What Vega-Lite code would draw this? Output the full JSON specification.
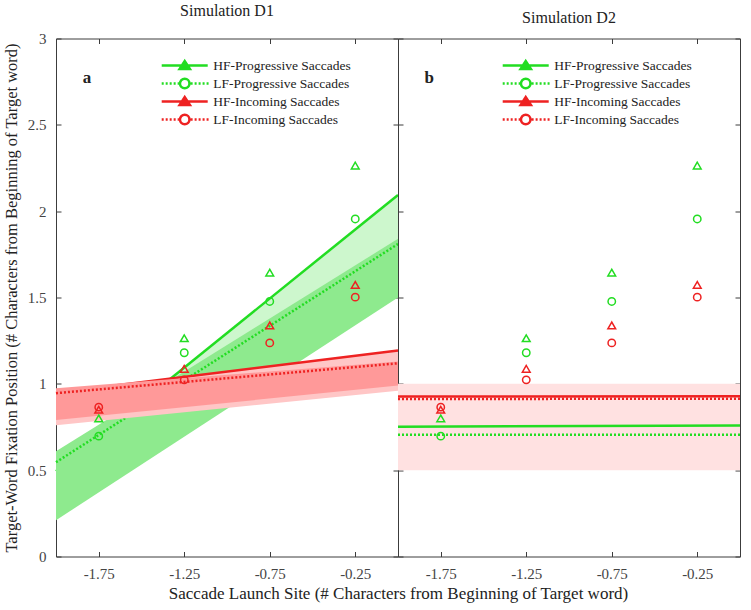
{
  "$schema": "https://vega.github.io/schema/vega-lite/v6.json",
  "background": "white",
  "padding": {"left": 3, "top": 2.5, "right": 8, "bottom": 5},
  "spacing": 0,
  "bounds": "flush",
  "datasets": {
    "pts": [
      {"series": "HF-Progressive Saccades", "x": -1.75, "y": 0.80},
      {"series": "HF-Progressive Saccades", "x": -1.25, "y": 1.264},
      {"series": "HF-Progressive Saccades", "x": -0.75, "y": 1.644},
      {"series": "HF-Progressive Saccades", "x": -0.25, "y": 2.264},
      {"series": "LF-Progressive Saccades", "x": -1.75, "y": 0.697},
      {"series": "LF-Progressive Saccades", "x": -1.25, "y": 1.18},
      {"series": "LF-Progressive Saccades", "x": -0.75, "y": 1.477},
      {"series": "LF-Progressive Saccades", "x": -0.25, "y": 1.955},
      {"series": "HF-Incoming Saccades", "x": -1.75, "y": 0.85},
      {"series": "HF-Incoming Saccades", "x": -1.25, "y": 1.087},
      {"series": "HF-Incoming Saccades", "x": -0.75, "y": 1.338},
      {"series": "HF-Incoming Saccades", "x": -0.25, "y": 1.573},
      {"series": "LF-Incoming Saccades", "x": -1.75, "y": 0.865},
      {"series": "LF-Incoming Saccades", "x": -1.25, "y": 1.023},
      {"series": "LF-Incoming Saccades", "x": -0.75, "y": 1.237},
      {"series": "LF-Incoming Saccades", "x": -0.25, "y": 1.502}
    ],
    "linesA": [
      {"series": "HFP", "x": -2, "y": 0.494},
      {"series": "HFP", "x": 0, "y": 2.094},
      {"series": "LFP", "x": -2, "y": 0.546},
      {"series": "LFP", "x": 0, "y": 1.81},
      {"series": "HFI", "x": -2, "y": 0.948},
      {"series": "HFI", "x": 0, "y": 1.193},
      {"series": "LFI", "x": -2, "y": 0.946},
      {"series": "LFI", "x": 0, "y": 1.119}
    ],
    "bandsA": [
      {"band": "HFP", "x": -2, "y": 0.30, "y2": 0.494},
      {"band": "HFP", "x": 0, "y": 1.84, "y2": 2.094},
      {"band": "LFP", "x": -2, "y": 0.21, "y2": 0.61},
      {"band": "LFP", "x": 0, "y": 1.50, "y2": 1.84},
      {"band": "HFI", "x": -2, "y": 0.76, "y2": 0.948},
      {"band": "HFI", "x": 0, "y": 0.96, "y2": 1.193},
      {"band": "LFI", "x": -2, "y": 0.79, "y2": 0.975},
      {"band": "LFI", "x": 0, "y": 0.99, "y2": 1.13}
    ],
    "linesB": [
      {"series": "HFP", "x": -2, "y": 0.752},
      {"series": "HFP", "x": 0, "y": 0.758},
      {"series": "LFP", "x": -2, "y": 0.705},
      {"series": "LFP", "x": 0, "y": 0.705},
      {"series": "HFI", "x": -2, "y": 0.926},
      {"series": "HFI", "x": 0, "y": 0.928},
      {"series": "LFI", "x": -2, "y": 0.912},
      {"series": "LFI", "x": 0, "y": 0.914}
    ],
    "bandsB": [
      {"band": "R", "x": -2, "y": 0.5, "y2": 1.0},
      {"band": "R", "x": 0, "y": 0.5, "y2": 1.0}
    ]
  },
  "hconcat": [
    {
      "width": 342,
      "height": 518,
      "title": {"text": "Simulation D1", "font": "Liberation Serif", "fontSize": 16, "fontWeight": "normal", "color": "#222222", "offset": 12.5},
      "resolve": {"axis": {"x": "independent", "y": "independent"}},
      "layer": [
        {
          "data": {"name": "bandsA"},
          "transform": [{"filter": "datum.band == 'HFP'"}],
          "mark": {"type": "area", "color": "#cdf7cd", "opacity": 1},
          "encoding": {
            "x": {"field": "x", "type": "quantitative", "scale": {"domain": [-2, 0], "nice": false},
              "axis": {"orient": "bottom", "values": [-1.75, -1.25, -0.75, -0.25], "labelExpr": "replace(format(datum.value, '.2f'), '\u2212', '-')",
                "labelFont": "Liberation Serif", "titleFont": "Liberation Serif", "titleFontSize": 17,
                "title": "Saccade Launch Site (# Characters from Beginning of Target word)", "titleX": 342, "titleY": 37, "titleAlign": "center", "titleBaseline": "middle"}},
            "y": {"field": "y", "type": "quantitative", "scale": {"domain": [0, 3], "nice": false},
              "axis": {"orient": "left", "values": [0, 0.5, 1, 1.5, 2, 2.5, 3], "labelExpr": "datum.value + ''",
                "labelFont": "Liberation Serif", "titleFont": "Liberation Serif", "titleFontSize": 16.5,
                "title": "Target-Word Fixation Position (# Characters from Beginning of Target word)", "titlePadding": 8}},
            "y2": {"field": "y2"}
          }
        },
        {
          "data": {"name": "pts"},
          "mark": {"type": "point", "filled": true, "opacity": 0, "size": 90, "strokeWidth": 2.5},
          "encoding": {
            "x": {"field": "x", "type": "quantitative", "axis": null},
            "y": {"field": "y", "type": "quantitative", "axis": null},
            "shape": {"field": "series", "type": "nominal",
              "scale": {"domain": ["HF-Progressive Saccades", "LF-Progressive Saccades", "HF-Incoming Saccades", "LF-Incoming Saccades"],
                "range": ["M-1,0L8.7,0M2.75,0.75L3.85,-0.95L4.95,0.75Z", "M-1,0h0.42M-0.16,0h0.42M0.68,0h0.42M1.52,0h0.42M2.36,0h0.42M2.85,0A1,1 0 1,0 4.85,0A1,1 0 1,0 2.85,0ZM5.1,0h0.42M5.94,0h0.42M6.78,0h0.42M7.62,0h0.42M8.46,0h0.42", "M-1,0L8.7,0M2.75,0.75L3.85,-0.95L4.95,0.75Z", "M-1,0h0.42M-0.16,0h0.42M0.68,0h0.42M1.52,0h0.42M2.36,0h0.42M2.85,0A1,1 0 1,0 4.85,0A1,1 0 1,0 2.85,0ZM5.1,0h0.42M5.94,0h0.42M6.78,0h0.42M7.62,0h0.42M8.46,0h0.42"]},
              "legend": {"orient": "none", "legendX": 103.7, "legendY": 19.5, "title": null, "padding": 0, "symbolSize": 90, "symbolStrokeWidth": 2.5, "symbolOpacity": 1, "labelOffset": 40, "clipHeight": 15, "rowPadding": 3, "labelFont": "Liberation Serif", "labelFontSize": 13.5, "labelColor": "#222222"}},
            "stroke": {"field": "series", "type": "nominal",
              "scale": {"domain": ["HF-Progressive Saccades", "LF-Progressive Saccades", "HF-Incoming Saccades", "LF-Incoming Saccades"], "range": ["#22dd22", "#22dd22", "#ee2222", "#ee2222"]},
              "legend": {"orient": "none", "legendX": 103.7, "legendY": 19.5, "title": null, "padding": 0, "symbolSize": 90, "symbolStrokeWidth": 2.5, "symbolOpacity": 1, "labelOffset": 40, "clipHeight": 15, "rowPadding": 3, "labelFont": "Liberation Serif", "labelFontSize": 13.5, "labelColor": "#222222"}},
            "fill": {"field": "series", "type": "nominal",
              "scale": {"domain": ["HF-Progressive Saccades", "LF-Progressive Saccades", "HF-Incoming Saccades", "LF-Incoming Saccades"], "range": ["#22dd22", "#ffffff", "#ee2222", "#ffffff"]},
              "legend": {"orient": "none", "legendX": 103.7, "legendY": 19.5, "title": null, "padding": 0, "symbolSize": 90, "symbolStrokeWidth": 2.5, "symbolOpacity": 1, "labelOffset": 40, "clipHeight": 15, "rowPadding": 3, "labelFont": "Liberation Serif", "labelFontSize": 13.5, "labelColor": "#222222"}}
          }
        },
        {
          "data": {"name": "linesA"},
          "transform": [{"filter": "datum.series == 'HFP'"}],
          "mark": {"type": "line", "color": "#22dd22", "strokeWidth": 2.5},
          "encoding": {
            "x": {"field": "x", "type": "quantitative", "axis": null},
            "y": {"field": "y", "type": "quantitative", "axis": null}
          }
        },
        {
          "data": {"name": "bandsA"},
          "transform": [{"filter": "datum.band == 'LFP'"}],
          "mark": {"type": "area", "color": "#8eea8e", "opacity": 1},
          "encoding": {
            "x": {"field": "x", "type": "quantitative", "axis": null},
            "y": {"field": "y", "type": "quantitative", "axis": null},
            "y2": {"field": "y2"}
          }
        },
        {
          "data": {"name": "linesA"},
          "transform": [{"filter": "datum.series == 'LFP'"}],
          "mark": {"type": "line", "color": "#22dd22", "strokeWidth": 2.5, "strokeDash": [2, 2]},
          "encoding": {
            "x": {"field": "x", "type": "quantitative", "axis": null},
            "y": {"field": "y", "type": "quantitative", "axis": null}
          }
        },
        {
          "data": {"name": "bandsA"},
          "transform": [{"filter": "datum.band == 'HFI'"}],
          "mark": {"type": "area", "color": "#ffc6c6", "opacity": 1},
          "encoding": {
            "x": {"field": "x", "type": "quantitative", "axis": null},
            "y": {"field": "y", "type": "quantitative", "axis": null},
            "y2": {"field": "y2"}
          }
        },
        {
          "data": {"name": "linesA"},
          "transform": [{"filter": "datum.series == 'HFI'"}],
          "mark": {"type": "line", "color": "#ee2222", "strokeWidth": 2.5},
          "encoding": {
            "x": {"field": "x", "type": "quantitative", "axis": null},
            "y": {"field": "y", "type": "quantitative", "axis": null}
          }
        },
        {
          "data": {"name": "bandsA"},
          "transform": [{"filter": "datum.band == 'LFI'"}],
          "mark": {"type": "area", "color": "#ff9999", "opacity": 1},
          "encoding": {
            "x": {"field": "x", "type": "quantitative", "axis": null},
            "y": {"field": "y", "type": "quantitative", "axis": null},
            "y2": {"field": "y2"}
          }
        },
        {
          "data": {"name": "linesA"},
          "transform": [{"filter": "datum.series == 'LFI'"}],
          "mark": {"type": "line", "color": "#ee2222", "strokeWidth": 2.5, "strokeDash": [2, 2]},
          "encoding": {
            "x": {"field": "x", "type": "quantitative", "axis": null},
            "y": {"field": "y", "type": "quantitative", "axis": null}
          }
        },
        {
          "data": {"name": "pts"},
          "transform": [{"filter": "indexof(datum.series, 'HF') == 0"}],
          "mark": {"type": "point", "shape": "triangle-up", "filled": false, "opacity": 1, "size": 60, "strokeWidth": 1.5},
          "encoding": {
            "x": {"field": "x", "type": "quantitative", "axis": null},
            "y": {"field": "y", "type": "quantitative", "axis": null},
            "stroke": {"field": "series", "type": "nominal",
              "scale": {"domain": ["HF-Progressive Saccades", "LF-Progressive Saccades", "HF-Incoming Saccades", "LF-Incoming Saccades"], "range": ["#22dd22", "#22dd22", "#ee2222", "#ee2222"]},
              "legend": {"orient": "none", "legendX": 103.7, "legendY": 19.5, "title": null, "padding": 0, "symbolSize": 90, "symbolStrokeWidth": 2.5, "symbolOpacity": 1, "labelOffset": 40, "clipHeight": 15, "rowPadding": 3, "labelFont": "Liberation Serif", "labelFontSize": 13.5, "labelColor": "#222222"}}
          }
        },
        {
          "data": {"name": "pts"},
          "transform": [{"filter": "indexof(datum.series, 'LF') == 0"}],
          "mark": {"type": "point", "shape": "circle", "filled": false, "opacity": 1, "size": 55, "strokeWidth": 1.5},
          "encoding": {
            "x": {"field": "x", "type": "quantitative", "axis": null},
            "y": {"field": "y", "type": "quantitative", "axis": null},
            "stroke": {"field": "series", "type": "nominal",
              "scale": {"domain": ["HF-Progressive Saccades", "LF-Progressive Saccades", "HF-Incoming Saccades", "LF-Incoming Saccades"], "range": ["#22dd22", "#22dd22", "#ee2222", "#ee2222"]},
              "legend": {"orient": "none", "legendX": 103.7, "legendY": 19.5, "title": null, "padding": 0, "symbolSize": 90, "symbolStrokeWidth": 2.5, "symbolOpacity": 1, "labelOffset": 40, "clipHeight": 15, "rowPadding": 3, "labelFont": "Liberation Serif", "labelFontSize": 13.5, "labelColor": "#222222"}}
          }
        },
        {
          "data": {"values": [{"x": -1.818, "y": 2.77, "label": "a"}]},
          "mark": {"type": "text", "font": "Liberation Serif", "fontSize": 17, "fontWeight": "bold", "color": "#222222", "align": "center", "baseline": "middle"},
          "encoding": {
            "x": {"field": "x", "type": "quantitative", "axis": {"orient": "top", "values": [-1.75, -1.25, -0.75, -0.25], "labels": false, "title": null}},
            "y": {"field": "y", "type": "quantitative", "axis": {"orient": "right", "values": [0, 0.5, 1, 1.5, 2, 2.5, 3], "labels": false, "title": null}},
            "text": {"field": "label"}
          }
        }
      ]
    },
    {
      "width": 342,
      "height": 518,
      "title": {"text": "Simulation D2", "font": "Liberation Serif", "fontSize": 16, "fontWeight": "normal", "color": "#222222", "offset": 12.5},
      "resolve": {"axis": {"x": "independent", "y": "independent"}},
      "layer": [
        {
          "data": {"name": "bandsB"},
          "mark": {"type": "area", "color": "#ffe1e1", "opacity": 1},
          "encoding": {
            "x": {"field": "x", "type": "quantitative", "scale": {"domain": [-2, 0], "nice": false},
              "axis": {"orient": "bottom", "values": [-1.75, -1.25, -0.75, -0.25], "labelExpr": "replace(format(datum.value, '.2f'), '\u2212', '-')", "labelFont": "Liberation Serif", "title": null}},
            "y": {"field": "y", "type": "quantitative", "scale": {"domain": [0, 3], "nice": false},
              "axis": {"orient": "left", "values": [0, 0.5, 1, 1.5, 2, 2.5, 3], "labels": false, "title": null}},
            "y2": {"field": "y2"}
          }
        },
        {
          "data": {"name": "pts"},
          "mark": {"type": "point", "filled": true, "opacity": 0, "size": 90, "strokeWidth": 2.5},
          "encoding": {
            "x": {"field": "x", "type": "quantitative", "axis": null},
            "y": {"field": "y", "type": "quantitative", "axis": null},
            "shape": {"field": "series", "type": "nominal",
              "scale": {"domain": ["HF-Progressive Saccades", "LF-Progressive Saccades", "HF-Incoming Saccades", "LF-Incoming Saccades"],
                "range": ["M-1,0L8.7,0M2.75,0.75L3.85,-0.95L4.95,0.75Z", "M-1,0h0.42M-0.16,0h0.42M0.68,0h0.42M1.52,0h0.42M2.36,0h0.42M2.85,0A1,1 0 1,0 4.85,0A1,1 0 1,0 2.85,0ZM5.1,0h0.42M5.94,0h0.42M6.78,0h0.42M7.62,0h0.42M8.46,0h0.42", "M-1,0L8.7,0M2.75,0.75L3.85,-0.95L4.95,0.75Z", "M-1,0h0.42M-0.16,0h0.42M0.68,0h0.42M1.52,0h0.42M2.36,0h0.42M2.85,0A1,1 0 1,0 4.85,0A1,1 0 1,0 2.85,0ZM5.1,0h0.42M5.94,0h0.42M6.78,0h0.42M7.62,0h0.42M8.46,0h0.42"]},
              "legend": {"orient": "none", "legendX": 102.7, "legendY": 19.5, "title": null, "padding": 0, "symbolSize": 90, "symbolStrokeWidth": 2.5, "symbolOpacity": 1, "labelOffset": 40, "clipHeight": 15, "rowPadding": 3, "labelFont": "Liberation Serif", "labelFontSize": 13.5, "labelColor": "#222222"}},
            "stroke": {"field": "series", "type": "nominal",
              "scale": {"domain": ["HF-Progressive Saccades", "LF-Progressive Saccades", "HF-Incoming Saccades", "LF-Incoming Saccades"], "range": ["#22dd22", "#22dd22", "#ee2222", "#ee2222"]},
              "legend": {"orient": "none", "legendX": 102.7, "legendY": 19.5, "title": null, "padding": 0, "symbolSize": 90, "symbolStrokeWidth": 2.5, "symbolOpacity": 1, "labelOffset": 40, "clipHeight": 15, "rowPadding": 3, "labelFont": "Liberation Serif", "labelFontSize": 13.5, "labelColor": "#222222"}},
            "fill": {"field": "series", "type": "nominal",
              "scale": {"domain": ["HF-Progressive Saccades", "LF-Progressive Saccades", "HF-Incoming Saccades", "LF-Incoming Saccades"], "range": ["#22dd22", "#ffffff", "#ee2222", "#ffffff"]},
              "legend": {"orient": "none", "legendX": 102.7, "legendY": 19.5, "title": null, "padding": 0, "symbolSize": 90, "symbolStrokeWidth": 2.5, "symbolOpacity": 1, "labelOffset": 40, "clipHeight": 15, "rowPadding": 3, "labelFont": "Liberation Serif", "labelFontSize": 13.5, "labelColor": "#222222"}}
          }
        },
        {
          "data": {"name": "linesB"},
          "transform": [{"filter": "datum.series == 'HFP'"}],
          "mark": {"type": "line", "color": "#22dd22", "strokeWidth": 2.5},
          "encoding": {
            "x": {"field": "x", "type": "quantitative", "axis": null},
            "y": {"field": "y", "type": "quantitative", "axis": null}
          }
        },
        {
          "data": {"name": "linesB"},
          "transform": [{"filter": "datum.series == 'LFP'"}],
          "mark": {"type": "line", "color": "#22dd22", "strokeWidth": 2.5, "strokeDash": [2, 2]},
          "encoding": {
            "x": {"field": "x", "type": "quantitative", "axis": null},
            "y": {"field": "y", "type": "quantitative", "axis": null}
          }
        },
        {
          "data": {"name": "linesB"},
          "transform": [{"filter": "datum.series == 'HFI'"}],
          "mark": {"type": "line", "color": "#ee2222", "strokeWidth": 2.5},
          "encoding": {
            "x": {"field": "x", "type": "quantitative", "axis": null},
            "y": {"field": "y", "type": "quantitative", "axis": null}
          }
        },
        {
          "data": {"name": "linesB"},
          "transform": [{"filter": "datum.series == 'LFI'"}],
          "mark": {"type": "line", "color": "#ee2222", "strokeWidth": 2.5, "strokeDash": [2, 2]},
          "encoding": {
            "x": {"field": "x", "type": "quantitative", "axis": null},
            "y": {"field": "y", "type": "quantitative", "axis": null}
          }
        },
        {
          "data": {"name": "pts"},
          "transform": [{"filter": "indexof(datum.series, 'HF') == 0"}],
          "mark": {"type": "point", "shape": "triangle-up", "filled": false, "opacity": 1, "size": 60, "strokeWidth": 1.5},
          "encoding": {
            "x": {"field": "x", "type": "quantitative", "axis": null},
            "y": {"field": "y", "type": "quantitative", "axis": null},
            "stroke": {"field": "series", "type": "nominal",
              "scale": {"domain": ["HF-Progressive Saccades", "LF-Progressive Saccades", "HF-Incoming Saccades", "LF-Incoming Saccades"], "range": ["#22dd22", "#22dd22", "#ee2222", "#ee2222"]},
              "legend": {"orient": "none", "legendX": 102.7, "legendY": 19.5, "title": null, "padding": 0, "symbolSize": 90, "symbolStrokeWidth": 2.5, "symbolOpacity": 1, "labelOffset": 40, "clipHeight": 15, "rowPadding": 3, "labelFont": "Liberation Serif", "labelFontSize": 13.5, "labelColor": "#222222"}}
          }
        },
        {
          "data": {"name": "pts"},
          "transform": [{"filter": "indexof(datum.series, 'LF') == 0"}],
          "mark": {"type": "point", "shape": "circle", "filled": false, "opacity": 1, "size": 55, "strokeWidth": 1.5},
          "encoding": {
            "x": {"field": "x", "type": "quantitative", "axis": null},
            "y": {"field": "y", "type": "quantitative", "axis": null},
            "stroke": {"field": "series", "type": "nominal",
              "scale": {"domain": ["HF-Progressive Saccades", "LF-Progressive Saccades", "HF-Incoming Saccades", "LF-Incoming Saccades"], "range": ["#22dd22", "#22dd22", "#ee2222", "#ee2222"]},
              "legend": {"orient": "none", "legendX": 102.7, "legendY": 19.5, "title": null, "padding": 0, "symbolSize": 90, "symbolStrokeWidth": 2.5, "symbolOpacity": 1, "labelOffset": 40, "clipHeight": 15, "rowPadding": 3, "labelFont": "Liberation Serif", "labelFontSize": 13.5, "labelColor": "#222222"}}
          }
        },
        {
          "data": {"values": [{"x": -1.818, "y": 2.77, "label": "b"}]},
          "mark": {"type": "text", "font": "Liberation Serif", "fontSize": 17, "fontWeight": "bold", "color": "#222222", "align": "center", "baseline": "middle"},
          "encoding": {
            "x": {"field": "x", "type": "quantitative", "axis": {"orient": "top", "values": [-1.75, -1.25, -0.75, -0.25], "labels": false, "title": null}},
            "y": {"field": "y", "type": "quantitative", "axis": {"orient": "right", "values": [0, 0.5, 1, 1.5, 2, 2.5, 3], "labels": false, "title": null}},
            "text": {"field": "label"}
          }
        }
      ]
    }
  ],
  "resolve": {"scale": {"color": "independent", "shape": "independent", "stroke": "independent", "fill": "independent"}, "legend": {"color": "independent", "shape": "independent", "stroke": "independent", "fill": "independent"}},
  "config": {
    "view": {"stroke": null},
    "font": "Liberation Serif",
    "axis": {"domainColor": "#3c3c3c", "domainWidth": 1, "tickColor": "#3c3c3c", "tickSize": -5, "tickWidth": 1,
      "labelFont": "Liberation Serif", "labelFontSize": 15, "labelColor": "#444444", "labelPadding": 15, "labelFlush": false,
      "titleFont": "Liberation Serif", "titleFontSize": 16, "titleFontWeight": "normal", "titleColor": "#222222", "grid": false},
    "style": {
      "guide-label": {"font": "Liberation Serif"},
      "guide-title": {"font": "Liberation Serif"},
      "group-title": {"font": "Liberation Serif", "fontSize": 16, "fontWeight": "normal"}
    },
    "title": {"font": "Liberation Serif", "fontSize": 16, "fontWeight": "normal", "color": "#222222"}
  }
}
